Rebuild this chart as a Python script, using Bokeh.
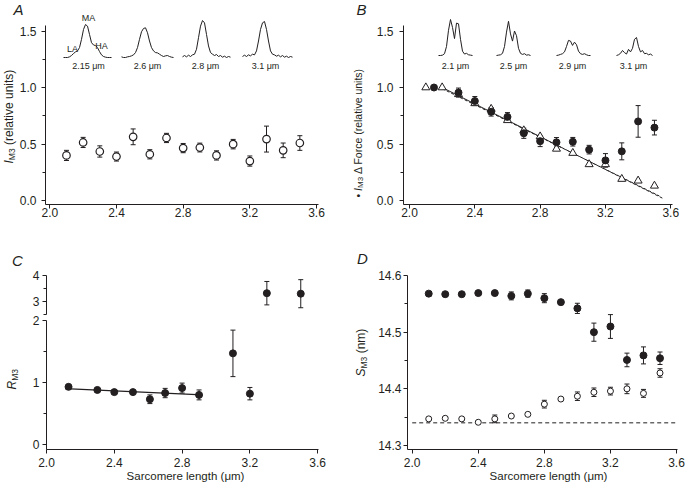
import math
from bokeh.plotting import figure
from bokeh.models import (ColumnDataSource, Whisker, TeeHead, Label, FixedTicker,
                          PrintfTickFormatter, Range1d, LinearAxis)
from bokeh.layouts import column, row
from bokeh.embed import file_html
from bokeh.resources import INLINE

# ---------------- data ----------------
# Panel A: I_M3 (open circles)
a_x = [2.1, 2.2, 2.3, 2.4, 2.5, 2.6, 2.7, 2.8, 2.9, 3.0, 3.1, 3.2, 3.3, 3.4, 3.5]
a_y = [0.40, 0.515, 0.435, 0.39, 0.565, 0.41, 0.555, 0.465, 0.47, 0.40, 0.50, 0.35, 0.545, 0.445, 0.51]
a_err = [0.045, 0.045, 0.05, 0.04, 0.07, 0.041, 0.041, 0.041, 0.039, 0.041, 0.042, 0.045, 0.115, 0.065, 0.065]
a_trace_labels = ["2.15 μm", "2.6 μm", "2.8 μm", "3.1 μm"]
a_trace_1 = [0, 0, 0, 0.02, 0.06, 0.12, 0.17, 0.2, 0.3, 0.55, 0.85, 1.0, 0.95, 0.7, 0.45, 0.38, 0.36, 0.3, 0.18, 0.08, 0.03, 0.01, 0, 0, 0]
a_trace_2 = [0.02, 0.0, 0.0, 0.02, 0.03, 0.05, 0.08, 0.15, 0.3, 0.55, 0.78, 0.88, 0.9, 0.75, 0.5, 0.3, 0.2, 0.15, 0.14, 0.1, 0.06, 0.03, 0.05, 0.06, 0.03, 0.01, 0.0]
a_trace_3 = [0.02, 0.06, 0.02, 0.07, 0.03, 0.08, 0.1, 0.25, 0.6, 0.95, 1.12, 1.05, 0.7, 0.35, 0.15, 0.1, 0.06, 0.09, 0.03, 0.06, 0.01, 0.04, 0.0, 0.03, 0.01]
a_trace_4 = [0.03, 0.07, 0.03, 0.08, 0.05, 0.1, 0.08, 0.2, 0.5, 0.85, 1.05, 1.09, 0.85, 0.5, 0.2, 0.1, 0.08, 0.04, 0.07, 0.02, 0.06, 0.01, 0.04, 0.0, 0.03, 0.01]

# Panel B: I_M3 (filled circles) and force (open triangles)
b_cx = [2.15, 2.3, 2.4, 2.5, 2.6, 2.7, 2.8, 2.9, 3.0, 3.1, 3.2, 3.3, 3.4, 3.5]
b_cy = [1.0, 0.955, 0.88, 0.785, 0.74, 0.595, 0.525, 0.515, 0.52, 0.45, 0.355, 0.435, 0.70, 0.645]
b_cerr = [0.0, 0.04, 0.04, 0.038, 0.038, 0.045, 0.048, 0.042, 0.038, 0.038, 0.06, 0.075, 0.14, 0.065]
b_tx = [2.1, 2.2, 2.3, 2.4, 2.5, 2.6, 2.7, 2.8, 2.9, 3.0, 3.1, 3.2, 3.3, 3.4, 3.5]
b_ty = [1.0, 1.0, 0.94, 0.86, 0.81, 0.71, 0.62, 0.566, 0.457, 0.42, 0.32, 0.32, 0.19, 0.175, 0.13]
b_fit1_x = [2.2, 2.93, 3.55]
b_fit1_y = [1.0, 0.47, 0.02]
b_fit2_x = [2.2, 3.53]
b_fit2_y = [0.99, 0.04]
b_trace_labels = ["2.1 μm", "2.5 μm", "2.9 μm", "3.1 μm"]
b_trace_1 = [0.0, 0.0, 0.01, 0.05, 0.25, 0.7, 1.0, 0.78, 0.47, 0.9, 0.88, 0.45, 0.12, 0.04, 0.06, 0.02, 0.01, 0.0]
b_trace_2 = [0.0, 0.01, 0.02, 0.06, 0.25, 0.65, 0.95, 0.6, 0.4, 0.68, 0.55, 0.2, 0.06, 0.03, 0.05, 0.01, 0.02, 0.0]
b_trace_3 = [0.0, 0.01, 0.03, 0.05, 0.1, 0.25, 0.42, 0.4, 0.28, 0.37, 0.3, 0.12, 0.05, 0.03, 0.05, 0.02, 0.0, 0.0]
b_trace_4 = [0.0, 0.02, 0.06, 0.14, 0.08, 0.04, 0.17, 0.1, 0.2, 0.45, 0.5, 0.25, 0.1, 0.14, 0.05, 0.06, 0.02, 0.04, 0.0]

# Panel C: R_M3
c_x = [2.13, 2.3, 2.4, 2.51, 2.61, 2.7, 2.8, 2.9, 3.1, 3.2, 3.3, 3.5]
c_y = [0.93, 0.88, 0.845, 0.845, 0.73, 0.83, 0.91, 0.80, 1.47, 0.82, 3.32, 3.30]
c_err = [0.0, 0.0, 0.0, 0.0, 0.07, 0.075, 0.08, 0.08, 0.375, 0.10, 0.45, 0.54]
c_fit_x = [2.11, 2.92]
c_fit_y = [0.90, 0.80]

# Panel D: S_M3
d_x = [2.1, 2.2, 2.3, 2.4, 2.5, 2.6, 2.7, 2.8, 2.9, 3.0, 3.1, 3.2, 3.3, 3.4, 3.5]
d_fill = [14.568, 14.567, 14.567, 14.569, 14.569, 14.564, 14.568, 14.560, 14.553, 14.542, 14.500, 14.510, 14.451, 14.459, 14.454]
d_fill_err = [0.002, 0.002, 0.002, 0.002, 0.002, 0.007, 0.0065, 0.008, 0.002, 0.009, 0.016, 0.021, 0.012, 0.015, 0.011]
d_open = [14.347, 14.348, 14.347, 14.341, 14.347, 14.352, 14.355, 14.373, 14.382, 14.387, 14.394, 14.396, 14.400, 14.392, 14.428]
d_open_err = [0.002, 0.002, 0.002, 0.002, 0.0068, 0.002, 0.002, 0.0068, 0.002, 0.0075, 0.0075, 0.0068, 0.0085, 0.007, 0.0075]
d_ref_x = [2.0, 3.6]
d_ref_y = [14.34, 14.34]

x_ticks = [2.0, 2.4, 2.8, 3.2, 3.6]
x_title = "Sarcomere length (μm)"

# ---------------- helpers ----------------
FONT = "Liberation Sans"
INK = "#231f20"


class Map:
    """page-pixel -> data mapping of one panel"""
    def __init__(self, px0, x0, kx, py0, y0, ky):
        self.px0, self.x0, self.kx = px0, x0, kx
        self.py0, self.y0, self.ky = py0, y0, ky

    def x(self, px):
        return self.x0 + (px - self.px0) / self.kx

    def y(self, py):
        return self.y0 + (self.py0 - py) / self.ky


def make_fig(m, box):
    l, r, t, b = box
    p = figure(output_backend="svg", toolbar_location=None,
               width=r - l, height=b - t, frame_width=r - l, frame_height=b - t,
               min_border=0, min_border_left=0, min_border_right=0,
               min_border_top=0, min_border_bottom=0,
               x_range=Range1d(m.x(l), m.x(r)), y_range=Range1d(m.y(b), m.y(t)))
    p.outline_line_color = None
    p.xgrid.visible = False
    p.ygrid.visible = False
    p.background_fill_color = "white"
    p.border_fill_color = "white"
    return p


def style_axis(ax, ticks, minor, fmt, loc, bounds, standoff=2, size="12px"):
    ax.ticker = FixedTicker(ticks=ticks, minor_ticks=minor)
    ax.formatter = PrintfTickFormatter(format=fmt)
    ax.fixed_location = loc
    ax.bounds = bounds
    ax.major_tick_out = 4
    ax.major_tick_in = 0
    ax.minor_tick_out = 3
    ax.minor_tick_in = 0
    ax.axis_line_color = INK
    ax.axis_line_width = 1
    ax.major_tick_line_color = INK
    ax.minor_tick_line_color = INK
    ax.major_label_text_font = FONT
    ax.major_label_text_font_size = size
    ax.major_label_text_color = INK
    ax.major_label_standoff = standoff


def errbars(p, xs, ys, es, size=5, **kw):
    src = ColumnDataSource(dict(x=list(xs), lo=[y - e for y, e in zip(ys, es)],
                                hi=[y + e for y, e in zip(ys, es)]))
    w = Whisker(base="x", lower="lo", upper="hi", source=src, dimension="height",
                line_color=INK, line_width=1,
                upper_head=TeeHead(size=size, line_color=INK, line_width=1),
                lower_head=TeeHead(size=size, line_color=INK, line_width=1), **kw)
    p.add_layout(w)


W = {' ': 278, '(': 333, ')': 333, 'a': 556, 'c': 500, 'e': 556, 'i': 222, 'l': 222,
     'n': 556, 'o': 556, 'r': 333, 's': 500, 't': 278, 'u': 556, 'v': 500, 'm': 833,
     'F': 611, 'I': 278, 'M': 833, 'R': 722, 'S': 667, '3': 556, 'Δ': 668, '•': 350}


def tw(s, size):
    return sum(W.get(c, 556) for c in s) * size / 1000.0


def lab(p, m, px, py, text, size=11, style="normal", align="center", baseline="middle", angle=0.0):
    p.add_layout(Label(x=m.x(px), y=m.y(py), text=text, text_font=FONT,
                       text_font_size=f"{size}px", text_font_style=style,
                       text_color=INK, text_align=align, text_baseline=baseline,
                       angle=angle))


def vlabel(p, m, cx, py_bottom, parts):
    """rotated (bottom-to-top) label made of pieces with own style/offset"""
    py = py_bottom
    for text, size, style, dx in parts:
        lead = len(text) - len(text.lstrip(" "))
        trail = len(text) - len(text.rstrip(" "))
        py -= lead * tw(" ", size)
        core = text.strip(" ")
        lab(p, m, cx + dx, py, core, size=size, style=style, align="left",
            baseline="middle", angle=math.pi / 2)
        py -= tw(core, size) + trail * tw(" ", size)


def trace(p, m, shape, start_px, base_py, scale_px, step_px=2):
    xs = [m.x(start_px + i * step_px) for i in range(len(shape))]
    ys = [m.y(base_py - v * scale_px) for v in shape]
    p.line(xs, ys, line_color=INK, line_width=1)


# ---------------- panel A ----------------
mA = Map(49.3, 2.0, 166.7, 200, 0.0, 112.7)
pA = make_fig(mA, (0, 340, 0, 225))
style_axis(pA.xaxis[0], x_ticks, [], "%.1f", mA.y(204), (mA.x(45), mA.x(318)), standoff=-1)
style_axis(pA.yaxis[0], [0.0, 0.5, 1.0, 1.5], [0.25, 0.75, 1.25], "%.1f",
           mA.x(45), (mA.y(204), 1.55), standoff=5)
errbars(pA, a_x, a_y, a_err)
pA.scatter(a_x, a_y, marker="circle", size=7.5, fill_color="white", line_color=INK, line_width=1.2)
for shp, st in zip([a_trace_1, a_trace_2, a_trace_3, a_trace_4], [63, 121, 182, 242]):
    trace(pA, mA, shp, st, 57, 33)
for t, cx in zip(a_trace_labels, [88, 147, 205, 265]):
    lab(pA, mA, cx, 65, t, size=9)
lab(pA, mA, 88, 17, "MA", size=9)
lab(pA, mA, 72, 48, "LA", size=9)
lab(pA, mA, 101, 45, "HA", size=9)
lab(pA, mA, 18, 9, "A", size=15, style="italic")
vlabel(pA, mA, 8, 163, [("I", 12, "italic", 0), ("M3", 8.5, "normal", 3),
                         (" (relative units)", 12, "normal", 0)])

# ---------------- panel B ----------------
mB = Map(409, 2.0, 163.3, 200, 0.0, 113.0)
pB = make_fig(mB, (340, 686, 0, 225))
style_axis(pB.xaxis[0], x_ticks, [], "%.1f", mB.y(204), (mB.x(403), mB.x(672)), standoff=-1)
style_axis(pB.yaxis[0], [0.0, 0.5, 1.0, 1.5], [0.25, 0.75, 1.25], "%.1f",
           mB.x(403), (mB.y(204), 1.55), standoff=6)
pB.line(b_fit1_x[:2], b_fit1_y[:2], line_color=INK, line_width=1)
pB.line(b_fit1_x[1:], b_fit1_y[1:], line_color=INK, line_width=1, line_dash="3 2")
pB.line(b_fit2_x, b_fit2_y, line_color=INK, line_width=1, line_dash="3 2")
errbars(pB, b_cx, b_cy, b_cerr)
pB.scatter(b_tx, b_ty, marker="triangle", size=8, fill_color="white", line_color=INK, line_width=1)
pB.scatter(b_cx, b_cy, marker="circle", size=7, fill_color=INK, line_color=INK)
for shp, st in zip([b_trace_1, b_trace_2, b_trace_3, b_trace_4], [438, 496, 556, 616]):
    trace(pB, mB, shp, st, 55, 36)
for t, cx in zip(b_trace_labels, [455, 513, 572, 633]):
    lab(pB, mB, cx, 65, t, size=9)
lab(pB, mB, 361, 9, "B", size=15, style="italic")
vlabel(pB, mB, 357, 197, [("• ", 10.5, "normal", 0), ("I", 10.5, "italic", 0), ("M3", 8, "normal", 3),
                           (" Δ Force (relative units)", 10.5, "normal", 0)])

# ---------------- panel C (broken axis) ----------------
mC = Map(46, 2.0, 169.5, 444, 0.0, 62.0)       # lower segment
mCu = Map(46, 2.0, 169.5, 301, 3.0, 26.0)      # upper segment
pC = make_fig(mC, (0, 340, 225, 483))
pC.extra_y_ranges = {"upper": Range1d(mCu.y(483), mCu.y(225))}
style_axis(pC.xaxis[0], x_ticks, [], "%.1f", mC.y(449), (mC.x(46), mC.x(318)), standoff=4)
style_axis(pC.yaxis[0], [0, 1, 2], [0.5, 1.5], "%.0f", mC.x(46), (mC.y(449), 2.0), standoff=3)
up_axis = LinearAxis(y_range_name="upper")
pC.add_layout(up_axis, "left")
style_axis(up_axis, [3, 4], [2.5, 3.5], "%.0f", mC.x(46), (2.5, 4.0), standoff=3)

hi_mask = [y > 2.0 for y in c_y]
cx_hi = [x for x, h in zip(c_x, hi_mask) if h]
cy_hi = [y for y, h in zip(c_y, hi_mask) if h]
ce_hi = [e for e, h in zip(c_err, hi_mask) if h]
cx_lo = [x for x, h in zip(c_x, hi_mask) if not h]
cy_lo = [y for y, h in zip(c_y, hi_mask) if not h]
ce_lo = [e for e, h in zip(c_err, hi_mask) if not h]
pC.line(c_fit_x, c_fit_y, line_color=INK, line_width=1.2)
errbars(pC, cx_lo, cy_lo, ce_lo)
errbars(pC, cx_hi, cy_hi, ce_hi, y_range_name="upper")
pC.scatter(cx_lo, cy_lo, marker="circle", size=7, fill_color=INK, line_color=INK)
pC.scatter(cx_hi, cy_hi, marker="circle", size=7, fill_color=INK, line_color=INK, y_range_name="upper")
lab(pC, mC, 17, 260, "C", size=15, style="italic")
vlabel(pC, mC, 11, 389, [("R", 12, "italic", 0), ("M3", 8.5, "normal", 3)])
lab(pC, mC, 185, 475, x_title, size=11.5)

# ---------------- panel D ----------------
mD = Map(411.7, 2.0, 165.2, 275, 14.6, 566.7)
pD = make_fig(mD, (340, 686, 225, 483))
style_axis(pD.xaxis[0], x_ticks, [], "%.1f", mD.y(449), (mD.x(407), mD.x(677)), standoff=4)
style_axis(pD.yaxis[0], [14.3, 14.4, 14.5, 14.6], [14.35, 14.45, 14.55], "%.1f",
           mD.x(407), (mD.y(449), 14.6), standoff=2)
pD.line(d_ref_x, d_ref_y, line_color=INK, line_width=1, line_dash="4 3")
errbars(pD, d_x, d_fill, d_fill_err)
errbars(pD, d_x, d_open, d_open_err)
pD.scatter(d_x, d_open, marker="circle", size=6, fill_color="white", line_color=INK, line_width=1)
pD.scatter(d_x, d_fill, marker="circle", size=7, fill_color=INK, line_color=INK)
lab(pD, mD, 362, 258, "D", size=15, style="italic")
vlabel(pD, mD, 360, 376, [("S", 12, "italic", 0), ("M3", 8.5, "normal", 3), (" (nm)", 12, "normal", 0)])
lab(pD, mD, 548, 475, x_title, size=11.5)

layout = column(row(pA, pB, spacing=0), row(pC, pD, spacing=0), spacing=0)
open("out.html", "w").write(file_html(layout, INLINE))
